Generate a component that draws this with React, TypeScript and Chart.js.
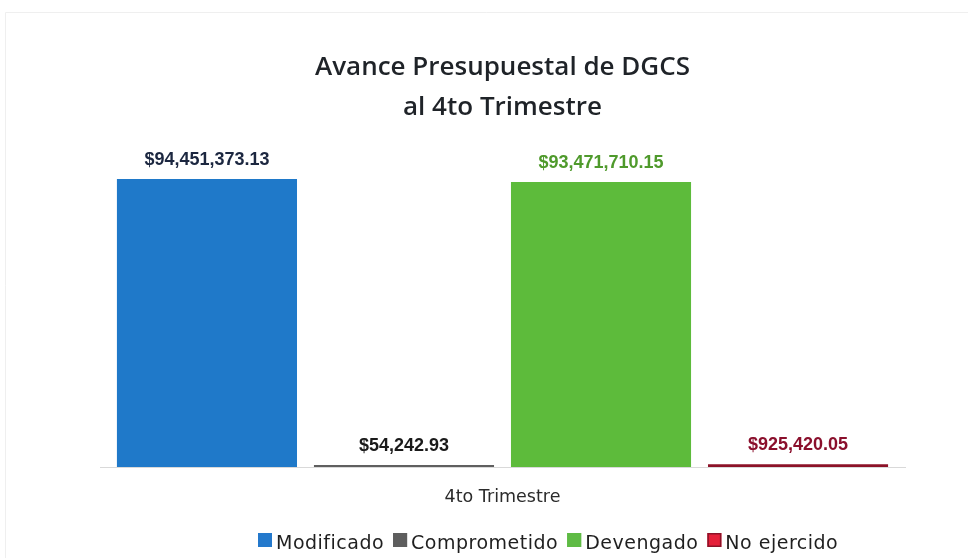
import React, { useEffect, useRef } from "react";
import { Chart, registerables } from "chart.js";

Chart.register(...registerables);

const categories = ["4to Trimestre"];
const seriesNames = ["Modificado", "Comprometido", "Devengado", "No ejercido"];
const seriesValues = [94451373.13, 54242.93, 93471710.15, 925420.05];
const valueLabels = ["$94,451,373.13", "$54,242.93", "$93,471,710.15", "$925,420.05"];
const titleLines = ["Avance Presupuestal de DGCS", "al 4to Trimestre"];

const barColors = ["#1f79c9", "#5f5f5f", "#5dbb3b", "#8c1228"];
const legendFill = ["#2479cc", "#5e5e5e", "#5fbb45", "#e5203a"];
const legendBorder = ["#2479cc", "#5e5e5e", "#5fbb45", "#8c1228"];
const labelColors = ["#1c2740", "#1a1a1a", "#4f9a2c", "#8a0f2c"];

const valueLabelPlugin = {
  id: "valueLabels",
  afterDatasetsDraw(chart: any) {
    const ctx = chart.ctx;
    ctx.save();
    ctx.textAlign = "center";
    ctx.textBaseline = "middle";
    chart.data.datasets.forEach((ds: any, i: number) => {
      const meta = chart.getDatasetMeta(i);
      const bar = meta.data[0];
      if (!bar) return;
      ctx.font = "bold 18px 'Liberation Sans', sans-serif";
      ctx.fillStyle = labelColors[i];
      ctx.fillText(valueLabels[i], bar.x, Math.min(bar.y, chart.chartArea.bottom - 2) - 19);
    });
    ctx.restore();
  },
};

const legendPlugin = {
  id: "customLegend",
  afterDraw(chart: any) {
    const ctx = chart.ctx;
    ctx.save();
    ctx.font = "19px 'DejaVu Sans', sans-serif";
    (ctx as any).letterSpacing = "0.5px";
    ctx.textAlign = "left";
    ctx.textBaseline = "alphabetic";
    let x = 258;
    const boxTop = 533;
    const box = 14;
    seriesNames.forEach((name, i) => {
      ctx.fillStyle = legendFill[i];
      ctx.fillRect(x, boxTop, box, box);
      ctx.strokeStyle = legendBorder[i];
      ctx.lineWidth = 1.5;
      ctx.strokeRect(x + 0.75, boxTop + 0.75, box - 1.5, box - 1.5);
      ctx.fillStyle = "#1f1f1f";
      ctx.fillText(name, x + box + 4, 549);
      const w = ctx.measureText(name).width;
      x += box + 4 + w + 9;
    });
    ctx.restore();
  },
};

const framePlugin = {
  id: "frame",
  beforeDraw(chart: any) {
    const ctx = chart.ctx;
    ctx.save();
    ctx.fillStyle = "#ffffff";
    ctx.fillRect(0, 0, chart.width, chart.height);
    ctx.strokeStyle = "#efefef";
    ctx.lineWidth = 1;
    ctx.beginPath();
    ctx.moveTo(5.5, 558);
    ctx.lineTo(5.5, 12.5);
    ctx.lineTo(968, 12.5);
    ctx.stroke();
    ctx.restore();
  },
};

export default function App() {
  const canvasRef = useRef<HTMLCanvasElement | null>(null);

  useEffect(() => {
    if (!canvasRef.current) return;
    const chart = new Chart(canvasRef.current, {
      type: "bar",
      data: {
        labels: categories,
        datasets: seriesNames.map((name, i) => ({
          label: name,
          data: [seriesValues[i]],
          backgroundColor: barColors[i],
          borderWidth: 0,
          minBarLength: 2,
          categoryPercentage: 0.979,
          barPercentage: 0.914,
        })),
      },
      options: {
        animation: false,
        responsive: true,
        maintainAspectRatio: false,
        layout: { padding: { left: 100, right: 69, top: 20, bottom: 38 } },
        scales: {
          x: {
            grid: { display: false },
            border: { display: true, color: "#d9d9d9", width: 1 },
            ticks: {
              color: "#2b2b2b",
              font: { family: "'DejaVu Sans', sans-serif", size: 17.5 },
              padding: 12,
            },
          },
          y: {
            display: false,
            min: 0,
            max: 100000000,
          },
        },
        plugins: {
          title: {
            display: true,
            text: titleLines,
            color: "#1f2328",
            font: { family: "'Open Sans', sans-serif", size: 26, weight: "600", lineHeight: 40 / 26 },
            padding: { top: 28, bottom: 34 },
          },
          legend: { display: false },
          tooltip: { enabled: false },
        },
      },
      plugins: [framePlugin, valueLabelPlugin, legendPlugin],
    });
    return () => chart.destroy();
  }, []);

  return (
    <div style={{ position: "fixed", left: 0, top: 0, width: 974, height: 558, background: "#fff" }}>
      <canvas ref={canvasRef} />
    </div>
  );
}
